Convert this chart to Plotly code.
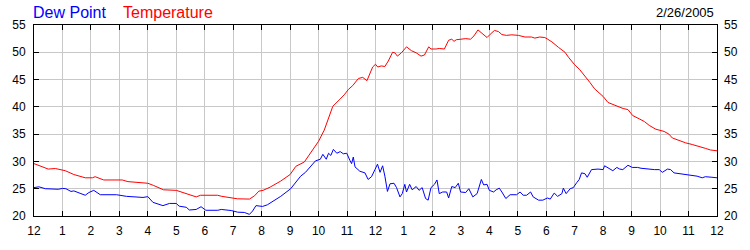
import plotly.graph_objects as go

# Hours since midnight (0-24) and readings
temp_hours = [0.0, 0.25, 0.5, 0.75, 0.95, 1.1, 1.4, 1.8, 2.05, 2.15, 2.45, 3.1, 3.3, 3.65, 4.0, 4.2, 4.55, 5.0,
              5.35, 5.7, 5.85, 6.15, 6.45, 6.6, 6.95, 7.15, 7.57, 7.75, 7.9, 8.05, 8.3, 8.67, 9.0, 9.2, 9.5, 9.7,
              10.0, 10.2, 10.35, 10.5, 10.75, 10.9, 11.05, 11.2, 11.4, 11.55, 11.7, 11.8, 11.9, 12.0, 12.08, 12.2,
              12.33, 12.45, 12.6, 12.68, 12.77, 12.91, 13.09, 13.26, 13.43, 13.6, 13.72, 13.87, 13.95, 14.13, 14.24,
              14.42, 14.57, 14.68, 14.76, 14.84, 15.05, 15.17, 15.34, 15.46, 15.6, 15.75, 15.92, 16.03, 16.18, 16.32,
              16.44, 16.6, 16.79, 17.02, 17.25, 17.48, 17.6, 17.77, 17.95, 18.05, 18.2, 18.43, 18.66, 18.78, 19.0,
              19.18, 19.36, 19.53, 19.7, 19.88, 20.0, 20.17, 20.34, 20.52, 20.7, 20.87, 21.04, 21.27, 21.45, 21.62,
              21.85, 22.14, 22.31, 22.43, 22.66, 22.9, 23.13, 23.36, 23.59, 23.77, 24.0]
temperature = [29.6, 29.1, 28.6, 28.7, 28.4, 28.3, 27.6, 27.0, 27.0, 27.2, 26.6, 26.6, 26.3, 26.2, 26.0, 25.6, 24.8,
               24.7, 24.1, 23.5, 23.8, 23.8, 23.8, 23.6, 23.4, 23.15, 23.1, 23.7, 24.55, 24.7, 25.3, 26.4, 27.6, 29.1,
               29.9, 31.4, 33.7, 35.75, 38.1, 40.1, 41.4, 42.2, 43.2, 43.9, 45.2, 45.4, 44.8, 45.9, 47.3, 47.8, 47.3,
               47.5, 47.4, 48.4, 50.0, 49.9, 49.3, 49.9, 51.0, 50.3, 49.9, 49.3, 49.5, 51.0, 50.6, 50.6, 50.7, 50.6,
               52.2, 52.4, 52.0, 52.3, 52.4, 52.5, 52.4, 53.0, 54.1, 53.5, 52.7, 53.3, 54.0, 53.8, 53.25, 53.1, 53.2,
               53.1, 52.8, 52.8, 52.6, 52.8, 52.7, 52.4, 51.9, 50.9, 50.0, 49.1, 47.7, 46.8, 45.7, 44.5, 43.3, 42.5,
               41.9, 40.8, 40.4, 40.1, 39.7, 39.5, 38.4, 37.8, 37.3, 36.6, 35.9, 35.5, 35.0, 34.3, 33.8, 33.4, 33.1,
               32.8, 32.4, 32.1, 31.95]

dew_hours = [0.0, 0.17, 0.4, 0.8, 0.85, 1.0, 1.12, 1.3, 1.4, 1.65, 1.8, 1.93, 2.1, 2.33, 2.9, 3.25, 3.6, 3.83, 4.0,
             4.18, 4.53, 4.76, 5.0, 5.1, 5.35, 5.46, 5.7, 5.87, 6.04, 6.46, 6.58, 6.93, 7.16, 7.39, 7.57, 7.68, 7.8,
             8.03, 8.2, 8.38, 8.67, 9.02, 9.19, 9.37, 9.54, 9.77, 9.89, 10.06, 10.15, 10.27, 10.35, 10.43, 10.52,
             10.64, 10.76, 10.87, 10.99, 11.1, 11.16, 11.22, 11.28, 11.45, 11.63, 11.74, 11.86, 11.98, 12.07, 12.16,
             12.25, 12.33, 12.42, 12.51, 12.65, 12.74, 12.86, 12.94, 13.03, 13.09, 13.2, 13.29, 13.43, 13.53, 13.64,
             13.76, 13.85, 13.95, 14.07, 14.16, 14.24, 14.36, 14.5, 14.57, 14.68, 14.8, 14.91, 14.99, 15.17, 15.28,
             15.42, 15.57, 15.72, 15.8, 15.92, 16.0, 16.15, 16.24, 16.35, 16.44, 16.58, 16.73, 16.96, 17.08, 17.19,
             17.31, 17.45, 17.54, 17.73, 17.88, 18.04, 18.14, 18.28, 18.4, 18.55, 18.6, 18.7, 18.84, 18.95, 19.07,
             19.16, 19.24, 19.36, 19.44, 19.59, 19.82, 20.0, 20.05, 20.19, 20.34, 20.48, 20.58, 20.69, 20.87, 21.02,
             21.21, 21.33, 21.56, 21.8, 21.97, 22.08, 22.26, 22.37, 22.49, 22.66, 22.84, 23.07, 23.3, 23.48, 23.59,
             23.82, 24.0]
dew_point = [25.2, 25.35, 25.0, 25.0, 24.9, 25.05, 25.0, 24.5, 24.6, 24.1, 23.8, 24.3, 24.7, 23.9, 23.9, 23.6, 23.4,
             23.4, 23.55, 22.5, 21.9, 22.3, 22.3, 21.8, 21.6, 21.1, 21.2, 21.7, 21.05, 21.05, 21.2, 21.0, 20.7, 20.65,
             20.3, 20.9, 21.9, 21.75, 22.05, 22.6, 23.6, 25.0, 26.1, 27.3, 28.0, 29.3, 30.1, 30.4, 31.3, 30.4, 31.5,
             31.1, 32.2, 31.5, 31.8, 31.4, 31.5, 30.2, 29.6, 30.8, 29.0, 28.2, 27.9, 26.7, 27.2, 28.5, 29.5, 28.0,
             29.2, 27.3, 24.5, 25.9, 26.0, 25.2, 23.5, 24.1, 25.8, 24.4, 25.8, 24.8, 25.4, 24.7, 25.2, 23.2, 22.9,
             25.2, 25.8, 26.6, 24.1, 24.4, 24.4, 23.3, 25.4, 25.2, 26.0, 24.4, 24.3, 25.0, 23.5, 24.1, 26.7, 25.7,
             25.8, 24.7, 24.4, 24.8, 25.1, 24.4, 23.2, 23.9, 23.9, 24.4, 23.8, 23.8, 24.4, 23.5, 22.9, 22.9, 23.3,
             23.1, 24.2, 23.6, 24.1, 25.1, 24.1, 25.0, 25.2, 26.1, 26.7, 27.9, 27.75, 27.1, 28.5, 28.6, 28.5, 29.2,
             28.75, 28.3, 28.9, 28.6, 28.5, 29.3, 28.9, 28.9, 28.75, 28.6, 28.5, 28.5, 28.0, 28.6, 28.5, 27.9, 27.75,
             27.6, 27.4, 27.3, 27.0, 27.2, 27.1, 27.0]

x_tickvals = list(range(0, 25))
x_ticktext = ["12", "1", "2", "3", "4", "5", "6", "7", "8", "9", "10", "11",
              "12", "1", "2", "3", "4", "5", "6", "7", "8", "9", "10", "11", "12"]
y_ticks = [20, 25, 30, 35, 40, 45, 50, 55]
date_label = "2/26/2005"

FONT = "Liberation Sans, Arial, sans-serif"

fig = go.Figure()
fig.add_trace(go.Scatter(x=temp_hours, y=temperature, mode="lines", name="Temperature",
                         line=dict(color="#ff0000", width=1), yaxis="y"))
fig.add_trace(go.Scatter(x=dew_hours, y=dew_point, mode="lines", name="Dew Point",
                         line=dict(color="#0000ff", width=1), yaxis="y2"))

fig.update_layout(
    width=750, height=250,
    margin=dict(l=30, r=30, t=25, b=25, pad=0),
    paper_bgcolor="white", plot_bgcolor="white",
    showlegend=False,
    font=dict(family=FONT, size=12, color="black"),
    xaxis=dict(range=[0, 24], tickvals=x_tickvals, ticktext=x_ticktext,
               showgrid=True, gridcolor="#c8c8c8", gridwidth=1,
               showline=True, linecolor="black", linewidth=1, mirror="ticks",
               ticks="inside", ticklen=5, tickcolor="black", zeroline=False,
               ticklabelstandoff=4),
    yaxis=dict(range=[20, 55], tickvals=y_ticks,
               showgrid=True, gridcolor="#c8c8c8", gridwidth=1,
               showline=True, linecolor="black", linewidth=1, mirror="ticks",
               ticks="inside", ticklen=5, tickcolor="black", zeroline=False,
               ticklabelstandoff=5),
    yaxis2=dict(range=[20, 55], tickvals=y_ticks, overlaying="y", side="right",
                showgrid=False, showline=False, ticks="", zeroline=False,
                ticklabelstandoff=6),
    annotations=[
        dict(text="Dew Point", x=-0.004, xref="paper", y=1.065, yref="paper",
             showarrow=False, xanchor="left", yanchor="middle",
             font=dict(family=FONT, size=16, color="#0000ff")),
        dict(text="Temperature", x=0.128, xref="paper", y=1.065, yref="paper",
             showarrow=False, xanchor="left", yanchor="middle",
             font=dict(family=FONT, size=16, color="#ff0000")),
        dict(text=date_label, x=0.999, xref="paper", y=1.065, yref="paper",
             showarrow=False, xanchor="right", yanchor="middle",
             font=dict(family=FONT, size=13, color="black")),
    ],
)

fig.write_html("out.html")
